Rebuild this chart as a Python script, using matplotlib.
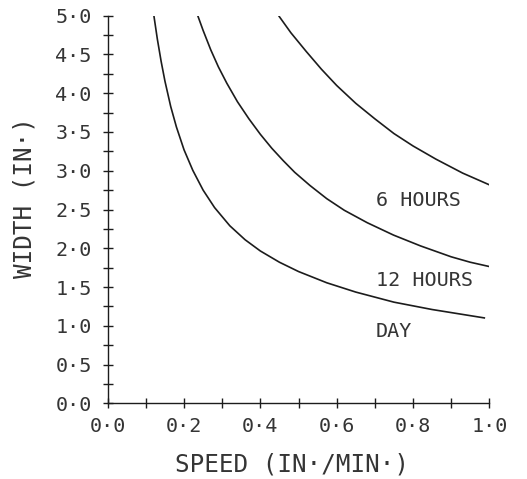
import matplotlib
matplotlib.use("Agg")
import matplotlib.pyplot as plt
from matplotlib.ticker import FixedLocator

# Data
day_speed = [0.121, 0.130, 0.140, 0.150, 0.165, 0.180, 0.200, 0.223, 0.250, 0.280,
             0.320, 0.360, 0.400, 0.450, 0.500, 0.574, 0.650, 0.750, 0.850, 0.989]
day_width = [5.00, 4.70, 4.41, 4.155, 3.83, 3.565, 3.27, 3.005, 2.75, 2.525,
             2.29, 2.11, 1.965, 1.82, 1.70, 1.555, 1.435, 1.305, 1.21, 1.10]

h12_speed = [0.236, 0.250, 0.270, 0.290, 0.312, 0.340, 0.370, 0.400, 0.430, 0.460,
             0.490, 0.530, 0.574, 0.620, 0.680, 0.749, 0.820, 0.900, 0.950, 1.004]
h12_width = [5.00, 4.81, 4.56, 4.34, 4.13, 3.89, 3.67, 3.47, 3.29, 3.13,
             2.98, 2.81, 2.64, 2.49, 2.33, 2.17, 2.03, 1.89, 1.82, 1.76]

h6_speed = [0.448, 0.480, 0.520, 0.560, 0.600, 0.650, 0.700, 0.750, 0.800, 0.860, 0.930, 1.004]
h6_width = [5.00, 4.78, 4.54, 4.31, 4.10, 3.87, 3.67, 3.48, 3.32, 3.15, 2.97, 2.81]

curve_labels = ["6 HOURS", "12 HOURS", "DAY"]
label_x = [0.703, 0.703, 0.703]
label_y = [2.62, 1.58, 0.92]

x_ticklabels = ["0·0", "0·2", "0·4", "0·6", "0·8", "1·0"]
y_ticklabels = ["0·0", "0·5", "1·0", "1·5", "2·0", "2·5", "3·0", "3·5", "4·0", "4·5", "5·0"]

FONT = "DejaVu Sans Mono"
plt.rcParams["font.family"] = [FONT, "DejaVu Sans"]

fig = plt.figure(figsize=(5.27, 4.79), dpi=100)
ax = fig.add_axes([0.2044, 0.158, 0.7241, 0.8092])

lc = "#1c1c1c"
tc = "#353535"
for xs, ys in [(day_speed, day_width), (h12_speed, h12_width), (h6_speed, h6_width)]:
    ax.plot(xs, ys, color=lc, lw=1.2, solid_capstyle="butt", solid_joinstyle="round")

for t, x, y in zip(curve_labels, label_x, label_y):
    ax.text(x, y, t, fontsize=14.5, color=tc, ha="left", va="center")

ax.set_xlim(0, 1.0)
ax.set_ylim(0, 5.0)
for s in ["top", "right"]:
    ax.spines[s].set_visible(False)
for s in ["left", "bottom"]:
    ax.spines[s].set_linewidth(1.0)
    ax.spines[s].set_color(lc)

ax.xaxis.set_major_locator(FixedLocator([0, 0.2, 0.4, 0.6, 0.8, 1.0]))
ax.xaxis.set_minor_locator(FixedLocator([0.1, 0.3, 0.5, 0.7, 0.9]))
ax.yaxis.set_major_locator(FixedLocator([0.5 * i for i in range(11)]))
ax.yaxis.set_minor_locator(FixedLocator([0.25 + 0.5 * i for i in range(10)]))
ax.set_xticklabels(x_ticklabels)
ax.set_yticklabels(y_ticklabels)

ax.tick_params(which="both", direction="inout", length=7, width=1.0, color=lc,
               labelsize=14.5, labelcolor=tc)
ax.tick_params(axis="x", which="major", pad=6)
ax.tick_params(axis="y", which="major", pad=8)

ax.set_xlabel("SPEED (IN·/MIN·)", fontsize=17.5, color=tc)
ax.set_ylabel("WIDTH (IN·)", fontsize=17.5, color=tc)
ax.xaxis.set_label_coords(0.483, -0.159)
ax.yaxis.set_label_coords(-0.217, 0.53)
ax.xaxis.label.set_va("center")
ax.yaxis.label.set_va("center")

fig.savefig("out.png", dpi=100, facecolor="white")
